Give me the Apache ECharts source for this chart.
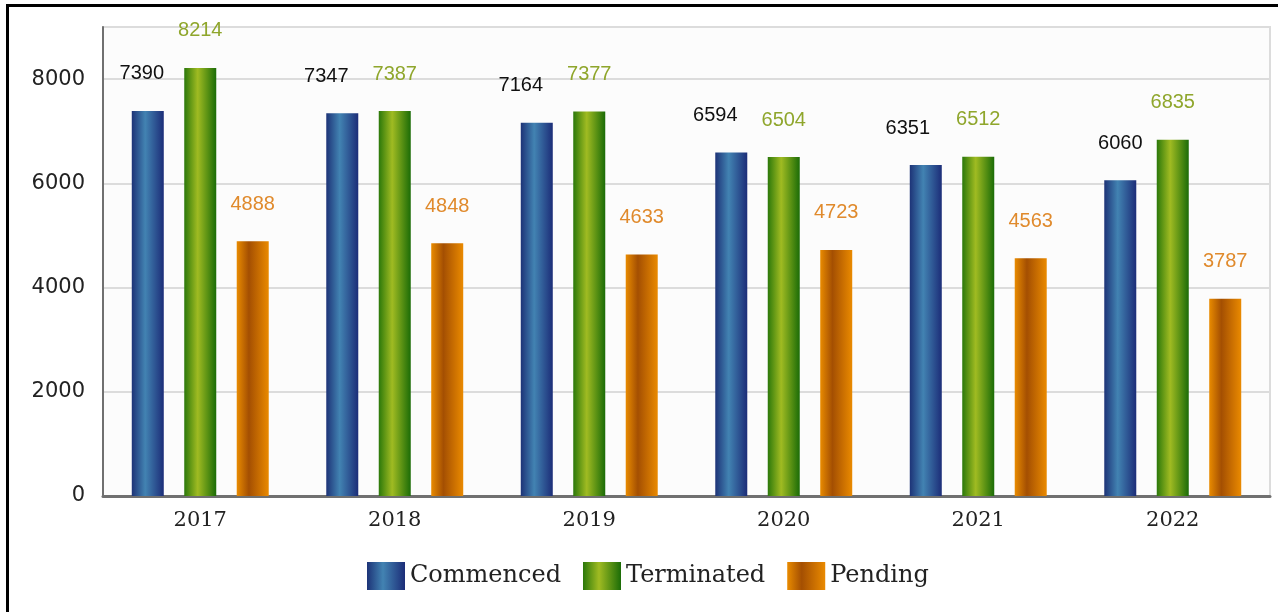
<html>
<head>
    <meta charset="utf-8" />
    <title>Cases</title>
    <script src="https://cdnjs.cloudflare.com/ajax/libs/echarts/6.0.0/echarts.min.js"></script>
    <style>
        body { margin: 0; background: #fff; }
        #frame { position: absolute; left: 6px; top: 4px; width: 1272px; height: 610px; z-index: 5;
                 border-top: 3px solid #000; border-left: 3px solid #000; box-sizing: border-box;
                 pointer-events: none; }
        #chart { position: absolute; left: 0; top: 0; width: 1284px; height: 612px; }
    </style>
    <script type="text/javascript">
        var years = ['2017', '2018', '2019', '2020', '2021', '2022'];
        var commenced = [7390, 7347, 7164, 6594, 6351, 6060];
        var terminated = [8214, 7387, 7377, 6504, 6512, 6835];
        var pending = [4888, 4848, 4633, 4723, 4563, 3787];
        var yTicks = [0, 2000, 4000, 6000, 8000];

        function stripe(edgeL, mid, edgeR, midAt) {
            return new echarts.graphic.LinearGradient(0, 0, 1, 0, [
                { offset: 0, color: edgeL },
                { offset: midAt, color: mid },
                { offset: 1, color: edgeR }
            ]);
        }

        function renderChart() {
            var chart = echarts.init(document.getElementById('chart'));
            var blue = stripe('#1d3377', '#4283b2', '#1c2d78', 0.42);
            var green = stripe('#2b780a', '#a0bb22', '#1b6c07', 0.42);
            var orange = stripe('#e98b00', '#a44f02', '#ea8a00', 0.38);
            // commenced labels get nudged left where they would hit the terminated label
            var shiftC = [-6, -16, -16, -16, -18, 0];
            var labelFont = "'Liberation Sans', sans-serif";

            function series(name, values, color, labelColor, shifts) {
                return {
                    name: name,
                    type: 'bar',
                    barWidth: 32,
                    barGap: '64%',
                    itemStyle: { color: color },
                    label: {
                        show: true, position: 'top', distance: 27,
                        color: labelColor, fontFamily: labelFont, fontSize: 20
                    },
                    data: values.map(function (v, i) {
                        if (!shifts) return v;
                        return { value: v, label: { offset: [shifts[i], 0] } };
                    })
                };
            }

            var option = {
                animation: false,
                backgroundColor: '#fff',
                grid: { left: 103, right: 14, top: 27, bottom: 116, show: true,
                        borderColor: '#dcdcdc', borderWidth: 2, backgroundColor: '#fcfcfc' },
                legend: {
                    top: 557, left: 362, itemWidth: 38, itemHeight: 28, itemGap: 22,
                    icon: 'rect',
                    textStyle: { fontFamily: "'DejaVu Serif', serif", fontSize: 24, color: '#222' },
                    data: ['Commenced', 'Terminated', 'Pending']
                },
                xAxis: {
                    type: 'category', data: years,
                    axisLine: { lineStyle: { color: '#707070', width: 3 } },
                    axisTick: { show: false },
                    axisLabel: { fontFamily: "'DejaVu Serif', serif", fontSize: 21, color: '#222', margin: 14 }
                },
                yAxis: {
                    type: 'value', min: 0, max: 9000, interval: 2000,
                    axisLine: { show: true, lineStyle: { color: '#707070', width: 2 } },
                    axisTick: { show: false },
                    axisLabel: {
                        showMaxLabel: false, margin: 18, color: '#222',
                        fontFamily: "'DejaVu Sans', sans-serif", fontSize: 21,
                        formatter: function (v) { return yTicks.indexOf(v) >= 0 ? String(v) : ''; }
                    },
                    splitLine: { lineStyle: { color: '#dcdcdc', width: 2 } }
                },
                series: [
                    series('Commenced', commenced, blue, '#111', shiftC),
                    series('Terminated', terminated, green, '#8fa62c', null),
                    series('Pending', pending, orange, '#e08a2c', null)
                ]
            };
            chart.setOption(option);
        }
    </script>
</head>
<body>
    <div id="frame"></div>
    <div id="chart"></div>
    <script type="text/javascript">
        renderChart();
    </script>
</body>
</html>
